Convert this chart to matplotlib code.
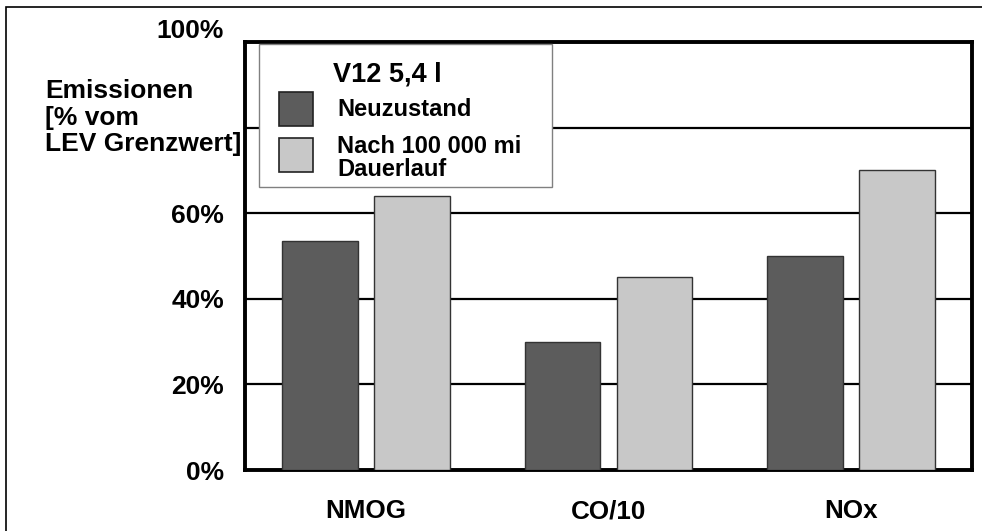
import numpy as np
import matplotlib.pyplot as plt
from matplotlib.patches import Rectangle
from matplotlib.transforms import blended_transform_factory

plt.rcParams['font.family'] = ['Liberation Sans', 'DejaVu Sans']
plt.rcParams['font.weight'] = 'bold'

# emissions in % of the LEV limit
categories = ['NMOG', 'CO/10', 'NOx']
neuzustand = [53.5, 30, 50]
dauerlauf = [64, 45, 70]
series_labels = ['Neuzustand', 'Nach 100 000 mi\nDauerlauf']
legend_title = 'V12 5,4 l'
yticks = [0, 20, 40, 60, 80, 100]
ytick_labels = ['0%', '20%', '40%', '60%', '', '']

W, H = 982, 531
fig = plt.figure(figsize=(W / 100, H / 100), dpi=100)
ax = fig.add_axes([245 / W, 1 - 470 / H, 727 / W, 428 / H])


def px(x, y):
    # pixel position (from top left) -> figure fraction
    return x / W, 1 - y / H


dark = '#5c5c5c'
light = '#c8c8c8'
x = np.arange(len(categories))
bw = 0.313
ax.bar(x - 0.19, neuzustand, bw, color=dark, edgecolor='#333333', linewidth=1, zorder=3)
ax.bar(x + 0.19, dauerlauf, bw, color=light, edgecolor='#333333', linewidth=1, zorder=3)

ax.set_xlim(-0.5, 2.5)
ax.set_ylim(0, 100)
ax.set_yticks(yticks)
ax.set_yticklabels(ytick_labels, fontsize=19)
ax.set_xticks(x)
ax.set_xticklabels(categories, fontsize=18.7)
ax.tick_params(axis='y', length=0, pad=15)
ax.tick_params(axis='x', length=0, pad=21)
ax.grid(axis='y', color='black', linewidth=1.6, zorder=1)
for s in ax.spines.values():
    s.set_linewidth(2.8)

# top label sits a bit above the frame
tr = blended_transform_factory(ax.transAxes, ax.transData)
ax.text(-21 / 727, 102.5, '100%', transform=tr, ha='right', va='center',
        fontsize=19, clip_on=False)

# y axis title, left aligned
for i, line in enumerate(['Emissionen', '[% vom', 'LEV Grenzwert]']):
    fig.text(*px(45, 91 + i * 26.5), line, fontsize=19, ha='left', va='center')

# legend box
x0, y0 = px(259, 187)
x1, y1 = px(552, 44)
fig.patches.append(Rectangle((x0, y0), x1 - x0, y1 - y0, transform=fig.transFigure,
                             facecolor='white', edgecolor='#808080', linewidth=1, zorder=5))
fig.text(*px(333, 75), legend_title, fontsize=19.5, ha='left', va='center', zorder=6)
for (top, col, lab, ty) in [(92, dark, series_labels[0], 110),
                            (138, light, series_labels[1], 158)]:
    sx0, sy0 = px(279, top + 34)
    sx1, sy1 = px(313, top)
    fig.patches.append(Rectangle((sx0, sy0), sx1 - sx0, sy1 - sy0, transform=fig.transFigure,
                                 facecolor=col, edgecolor='#222222', linewidth=1.2, zorder=6))
    fig.text(*px(337, ty), lab, fontsize=17, ha='left', va='center',
             linespacing=1.0, zorder=6)

# outer frame
bx0, by0 = px(6, 545)
bx1, by1 = px(995, 7)
fig.patches.append(Rectangle((bx0, by0), bx1 - bx0, by1 - by0, transform=fig.transFigure,
                             facecolor='none', edgecolor='black', linewidth=1.2, zorder=7))

fig.savefig('out.png', dpi=100)
